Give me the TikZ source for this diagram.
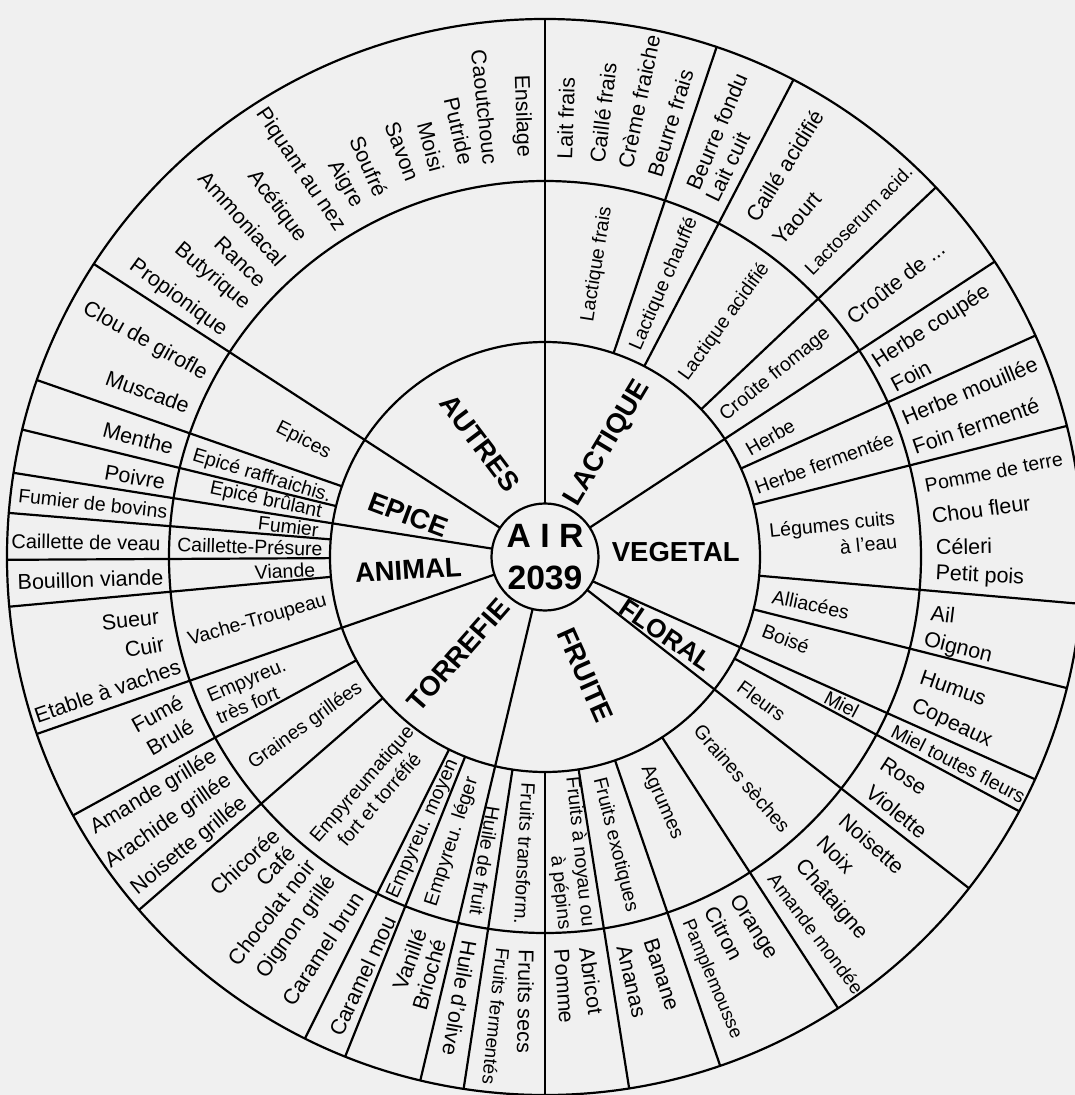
\documentclass[tikz,border=0pt]{standalone}
\usepackage{fontspec}
\setmainfont{Liberation Sans}
\definecolor{papier}{RGB}{240,240,240}

\begin{document}
\begin{tikzpicture}[
    x=1pt, y=1pt, line width=2.2pt,
    coeur/.style={font=\fontsize{33.7}{41.7}\selectfont\bfseries, align=center, inner sep=0pt},
    famille/.style={font=\fontsize{27.5}{30}\selectfont\bfseries, inner sep=0pt},
    sousfam/.style={font=\fontsize{19.5}{23.5}\selectfont, align=center, inner sep=0pt},
    extd/.style={font=\fontsize{21.5}{25}\selectfont, anchor=west, inner sep=0pt},
    extg/.style={font=\fontsize{21.5}{25}\selectfont, anchor=east, inner sep=0pt},
    petit/.style={font=\fontsize{#1}{24}\selectfont}]

    \useasboundingbox (-545,-538) rectangle (530,557);
    \fill[papier] (-545,-538) rectangle (530,557);

    % cercles et rayons
    \begin{scope}
    \clip (-545,-538) rectangle (530,557);
    \draw (0,0) circle[radius=538];
    \draw (0,0) circle[radius=376];
    \draw (0,0) circle[radius=215];
    \draw (0,0) circle[radius=53.5];
    \foreach \a in {90,33.3,-38,256.6,199.2,171,147}
        \draw (\a:53.5) -- (\a:538);
    \draw (-27:53.5) -- (-24.4:538);
    \foreach \a in {71.4,62.5,43.4,24.3,14.1,-5,-14.1,-28.2,-57,-71,279,270,261.3,248.2,243.5,221,208.7,185.3,180.3,175.3,166.3,160.8}
        \draw (\a:215) -- (\a:538);
    \end{scope}

    % centre
    \node[coeur] (air) at (0,0) {A I R\\2039};

    % familles
    \node[famille, rotate=-53] (autres) at (119.7:131.2) {AUTRES};
    \node[famille, rotate=59] (lactique) at (60.9:130.1) {LACTIQUE};
    \node[famille] (vegetal) at (2:130.9) {VEGETAL};
    \node[famille, rotate=-34, petit=26] (floral) at (-32.8:144) {\bfseries FLORAL};
    \node[famille, rotate=-66] (fruite) at (-71.3:124.6) {FRUITE};
    \node[famille, rotate=48.7] (torrefie) at (228.5:130.8) {TORREFIE};
    \node[famille, rotate=3.6] (animal) at (185.4:137.3) {ANIMAL};
    \node[famille, rotate=-20.6] (epice) at (162.9:143) {EPICE};

    % sous-familles
    \node[sousfam, rotate=81] (lfrais) at (79.9:297.3) {Lactique frais};
    \node[sousfam, rotate=66.5] (lchauffe) at (66.4:297.8) {Lactique chauffé};
    \node[sousfam, rotate=54] (lacidifie) at (52.6:295.6) {Lactique acidifié};
    \node[sousfam, rotate=39] (croutefro) at (38.4:293.8) {Croûte fromage};
    \node[sousfam, rotate=30] (herbe) at (28:255) {Herbe};
    \node[sousfam, rotate=20] (herbeferm) at (18.6:294.6) {Herbe fermentée};
    \node[sousfam, rotate=6, align=right] (legumes) at (4.2:289) {Légumes cuits\\à l'eau};
    \node[sousfam, rotate=-12] (alliacees) at (-10.1:270) {Alliacées};
    \node[sousfam, rotate=-21] (boise) at (-18.8:254.4) {Boisé};
    \node[sousfam, rotate=-28] (miel) at (-26.4:331.2) {Miel};
    \node[sousfam, rotate=-36] (fleurs) at (-33.6:260) {Fleurs};
    \node[sousfam, rotate=-49] (grainesec) at (-48.3:296.6) {Graines sèches};
    \node[sousfam, rotate=-66] (agrumes) at (-64.6:271.8) {Agrumes};
    \node[sousfam, rotate=-76] (exotiques) at (-76.3:296.4) {Fruits exotiques};
    \node[sousfam, rotate=-84, align=right] (noyau) at (-85.6:297) {Fruits à noyau ou\\à pépins};
    \node[sousfam, rotate=-93] (transform) at (-93.9:297) {Fruits transform.};
    \node[sousfam, rotate=-99] (huilefruit) at (-101.2:309.7) {Huile de fruit};
    \node[sousfam, rotate=72] (empleger) at (251.9:299.6) {Empyreu. léger};
    \node[sousfam, rotate=66] (empmoyen) at (245.9:298.2) {Empyreu. moyen};
    \node[sousfam, rotate=49] (empfort) at (233.3:292.4) {Empyreumatique\\fort et torréfié};
    \node[sousfam, rotate=36] (grainesgr) at (215.2:293) {Graines grillées};
    \node[sousfam, rotate=23, align=left] (emptres) at (204.5:323) {Empyreu.\\très fort};
    \node[sousfam, rotate=16] (vache) at (192.5:294.5) {Vache-Troupeau};
    \node[sousfam, rotate=3] (viande) at (183.1:260.4) {Viande};
    \node[sousfam, rotate=-2] (caillpres) at (178:295.2) {Caillette-Présure};
    \node[sousfam, rotate=-7] (fumier) at (173.2:258.4) {Fumier};
    \node[sousfam, rotate=-12] (epbrulant) at (168.6:284.8) {Epicé brûlant};
    \node[sousfam, rotate=-17] (epraff) at (164.1:294.5) {Epicé raffraichis.};
    \node[sousfam, rotate=-27] (epices) at (154.3:268.2) {Epices};

    % descripteurs, lactique et vegetal
    \node[extd, rotate=88] (laitfrais) at (87.2:397.5) {Lait frais};
    \node[extd, rotate=83] (caillefrais) at (82.5:396.8) {Caillé frais};
    \node[extd, rotate=78] (creme) at (78.4:396.4) {Crème fraiche};
    \node[extd, rotate=73] (beurrefrais) at (74:395) {Beurre frais};
    \node[extd, rotate=67] (beurrefondu) at (68.2:395.8) {Beurre fondu};
    \node[extd, rotate=64] (laitcuit) at (65:392.3) {Lait cuit};
    \node[extd, rotate=58] (cailleacid) at (58.6:394.2) {Caillé acidifié};
    \node[extd, rotate=49] (yaourt) at (53.7:390) {Yaourt};
    \node[extd, rotate=45.5, petit=19] (lactoserum) at (47.4:387) {Lactoserum acid.};
    \node[extd, rotate=38.5] (croutede) at (38:385) {Croûte de ...};
    \node[extd, rotate=33] (herbecoupee) at (30.3:381) {Herbe coupée};
    \node[extd, rotate=28] (foin) at (26.3:386.4) {Foin};
    \node[extd, rotate=22.5] (herbemouillee) at (21.2:382.7) {Herbe mouillée};
    \node[extd, rotate=19] (foinferm) at (16.6:383) {Foin fermenté};
    \node[extd, rotate=11, petit=19.5] (pommeterre) at (10.7:385.8) {Pomme de terre};
    \node[extd, rotate=8] (choufleur) at (6:388) {Chou fleur};
    \node[extd, rotate=1] (celeri) at (1.5:390) {Céleri};
    \node[extd, rotate=-3] (petitpois) at (-2.5:390) {Petit pois};
    \node[extd, rotate=-7] (ail) at (-8.2:389) {Ail};
    \node[extd, rotate=-14] (oignon) at (-12.4:387.3) {Oignon};
    \node[extd, rotate=-19] (humus) at (-17.7:393.6) {Humus};
    \node[extd, rotate=-25] (copeaux) at (-22:395.4) {Copeaux};

    % descripteurs, floral et fruite
    \node[extd, rotate=-27, petit=19.5] (mieltf) at (-26.5:387.5) {Miel toutes fleurs};
    \node[extd, rotate=-33] (rose) at (-31.3:394) {Rose};
    \node[extd, rotate=-39] (violette) at (-35.6:397.5) {Violette};
    \node[extd, rotate=-42] (noisette) at (-41.2:394.3) {Noisette};
    \node[extd, rotate=-46] (noix) at (-45.6:393.4) {Noix};
    \node[extd, rotate=-49] (chataigne) at (-50.3:396.2) {Châtaigne};
    \node[extd, rotate=-53, petit=19] (amandemondee) at (-54.5:390.5) {Amande mondée};
    \node[extd, rotate=-57] (orange) at (-61:388) {Orange};
    \node[extd, rotate=-62] (citron) at (-64.8:387) {Citron};
    \node[extd, rotate=-67, petit=18.5] (pamplemousse) at (-68.7:389) {Pamplemousse};
    \node[extd, rotate=-72] (banane) at (-74.6:395.5) {Banane};
    \node[extd, rotate=-77] (ananas) at (-78.6:395.8) {Ananas};
    \node[extd, rotate=-82] (abricot) at (-83.9:391.9) {Abricot};
    \node[extd, rotate=-86] (pomme) at (-87.6:391.7) {Pomme};
    \node[extd, rotate=-91] (fruitssecs) at (-92.7:391.7) {Fruits secs};
    \node[extd, rotate=-96, petit=19] (fruitsferm) at (-96.1:391.9) {Fruits fermentés};
    \node[extd, rotate=-100] (huileolive) at (-101.1:390.3) {Huile d'olive};

    % descripteurs, torrefie
    \node[extg, rotate=74] (brioche) at (254.5:396) {Brioché};
    \node[extg, rotate=70] (vanille) at (251.5:392) {Vanillé};
    \node[extg, rotate=65] (caramelmou) at (246.7:391.7) {Caramel mou};
    \node[extg, rotate=57] (caramelbrun) at (241:384) {Caramel brun};
    \node[extg, rotate=54] (oignongr) at (236.5:384) {Oignon grillé};
    \node[extg, rotate=52] (chocolat) at (232.5:384) {Chocolat noir};
    \node[extg, rotate=46] (cafe) at (229:386) {Café};
    \node[extg, rotate=43] (chicoree) at (225.7:384) {Chicorée};
    \node[extg, rotate=39] (noisettegr) at (219.1:386) {Noisette grillée};
    \node[extg, rotate=35] (arachide) at (215.1:385) {Arachide grillée};
    \node[extg, rotate=31] (amandegr) at (211.1:384) {Amande grillée};
    \node[extg, rotate=30] (brule) at (205.4:390) {Brulé};
    \node[extg, rotate=29] (fume) at (201.5:390) {Fumé};

    % descripteurs, animal et epice
    \node[extg, rotate=19] (etable) at (196.6:380) {Etable à vaches};
    \node[extg, rotate=10] (cuir) at (192.8:389.7) {Cuir};
    \node[extg, rotate=6] (sueur) at (188.8:389.6) {Sueur};
    \node[extg, rotate=2] (bouillon) at (183:381) {Bouillon viande};
    \node[extg, rotate=-1, petit=20] (caillveau) at (178:383.6) {Caillette de veau};
    \node[extg, rotate=-6, petit=19.5] (fumierbov) at (173.1:379.4) {Fumier de bovins};
    \node[extg, rotate=-10] (poivre) at (168.9:386.2) {Poivre};
    \node[extg, rotate=-15] (menthe) at (163.6:386.8) {Menthe};
    \node[extg, rotate=-20] (muscade) at (157.1:385.5) {Muscade};
    \node[extg, rotate=-29] (girofle) at (151.8:384.1) {Clou de girofle};

    % descripteurs, autres
    \node[extg, rotate=-88] (ensilage) at (93.1:399) {Ensilage};
    \node[extg, rotate=-84] (caoutchouc) at (97.9:395.4) {Caoutchouc};
    \node[extg, rotate=-77] (putride) at (101.3:399.4) {Putride};
    \node[extg, rotate=-75] (moisi) at (105.6:399.6) {Moisi};
    \node[extg, rotate=-69] (savon) at (109.3:398.6) {Savon};
    \node[extg, rotate=-66] (soufre) at (114.3:395.7) {Soufré};
    \node[extg, rotate=-60] (aigre) at (118.1:397) {Aigre};
    \node[extg, rotate=-56] (piquant) at (122:385) {Piquant au nez};
    \node[extg, rotate=-53] (acetique) at (127.4:398) {Acétique};
    \node[extg, rotate=-48] (ammoniacal) at (131.8:393.8) {Ammoniacal};
    \node[extg, rotate=-44] (rance) at (135.9:392.2) {Rance};
    \node[extg, rotate=-40] (butyrique) at (139.9:388.7) {Butyrique};
    \node[extg, rotate=-36] (propionique) at (144.9:390.6) {Propionique};
\end{tikzpicture}
\end{document}
